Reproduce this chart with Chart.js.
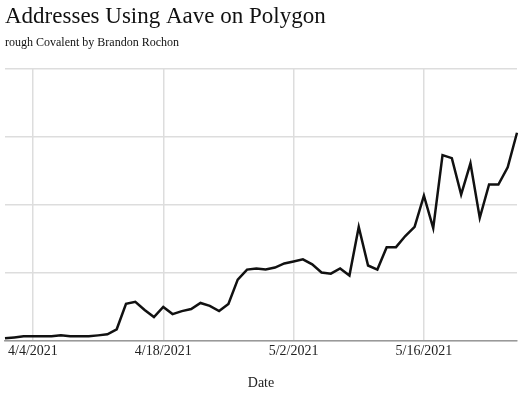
<!DOCTYPE html>
<html>
<head>
<meta charset="utf-8">
<script src="https://cdn.jsdelivr.net/npm/chart.js@4"></script>
<style>
  html, body { margin: 0; padding: 0; background: #fff; }
  #wrap { width: 520px; height: 400px; }
</style>
</head>
<body>
<div id="wrap"><canvas id="addrChart"></canvas></div>
<script>
// daily dates, 4/1 .. 5/26
const dates = [
  '4/1/2021','4/2/2021','4/3/2021','4/4/2021','4/5/2021','4/6/2021','4/7/2021','4/8/2021','4/9/2021','4/10/2021',
  '4/11/2021','4/12/2021','4/13/2021','4/14/2021','4/15/2021','4/16/2021','4/17/2021','4/18/2021','4/19/2021','4/20/2021',
  '4/21/2021','4/22/2021','4/23/2021','4/24/2021','4/25/2021','4/26/2021','4/27/2021','4/28/2021','4/29/2021','4/30/2021',
  '5/1/2021','5/2/2021','5/3/2021','5/4/2021','5/5/2021','5/6/2021','5/7/2021','5/8/2021','5/9/2021','5/10/2021',
  '5/11/2021','5/12/2021','5/13/2021','5/14/2021','5/15/2021','5/16/2021','5/17/2021','5/18/2021','5/19/2021','5/20/2021',
  '5/21/2021','5/22/2021','5/23/2021','5/24/2021','5/25/2021','5/26/2021'
];
const addresses = [
  15, 22, 30, 30, 30, 30, 37, 30, 30, 30,
  37, 45, 82, 269, 284, 224, 172, 246, 194, 216,
  231, 276, 254, 216, 269, 448, 522, 530, 522, 537,
  567, 582, 597, 560, 500, 492, 530, 478, 836, 552,
  522, 687, 687, 769, 836, 1067, 828, 1365, 1343, 1074,
  1305, 903, 1149, 1149, 1276, 1530
];
const shownTicks = ['4/4/2021', '4/18/2021', '5/2/2021', '5/16/2021'];

const FONT = '"Liberation Serif", "DejaVu Serif", serif';

new Chart(document.getElementById('addrChart'), {
  type: 'line',
  data: {
    labels: dates,
    datasets: [{
      label: 'Addresses',
      data: addresses,
      borderColor: '#111',
      borderWidth: 2.5,
      pointRadius: 0,
      tension: 0,
      fill: false
    }]
  },
  options: {
    responsive: true,
    maintainAspectRatio: false,
    animation: false,
    layout: { padding: { left: 5, right: 0, top: 3, bottom: 4 } },
    plugins: {
      legend: { display: false },
      tooltip: { enabled: false },
      title: {
        display: true,
        text: 'Addresses Using Aave on Polygon',
        align: 'start',
        color: '#111',
        font: { family: FONT, size: 23, weight: 'normal' },
        padding: { top: 0, bottom: 5 }
      },
      subtitle: {
        display: true,
        text: 'rough Covalent by Brandon Rochon',
        align: 'start',
        color: '#111',
        font: { family: FONT, size: 12 },
        padding: { bottom: 19 }
      }
    },
    scales: {
      x: {
        ticks: {
          autoSkip: false,
          maxRotation: 0,
          color: '#222',
          font: { family: FONT, size: 14 },
          callback: function (v) {
            const l = this.getLabelForValue(v);
            return shownTicks.includes(l) ? l : '';
          }
        },
        grid: {
          drawTicks: false,
          color: ctx => (ctx.tick && shownTicks.includes(dates[ctx.tick.value])) ? '#ddd' : 'rgba(0,0,0,0)',
          lineWidth: 1.5
        },
        border: { color: '#999', width: 1.5 },
        title: {
          display: true,
          text: 'Date',
          color: '#222',
          font: { family: FONT, size: 14 },
          padding: { top: 12 }
        }
      },
      y: {
        min: 0,
        max: 2000,
        ticks: { display: false, stepSize: 500 },
        grid: { color: '#ddd', lineWidth: 1.5, drawTicks: false },
        border: { display: false }
      }
    }
  }
});
</script>
</body>
</html>
